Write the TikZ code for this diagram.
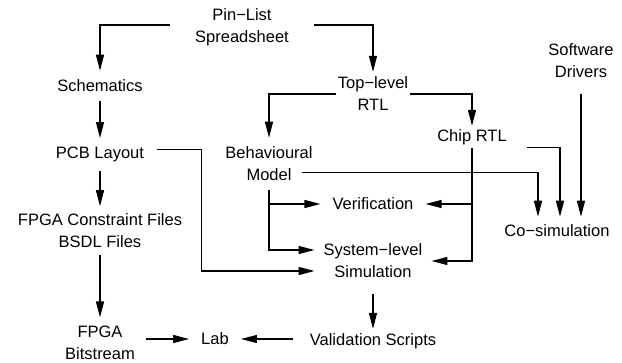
\documentclass[tikz,border=0pt]{standalone}
\usepackage{fontspec}
\setmainfont{Liberation Sans}
\usepackage{tikz}
\usetikzlibrary{arrows.meta}
\tikzstyle{every node}=[font=\fontsize{16.5}{22}\selectfont, align=center]

\begin{document}
\begin{tikzpicture}[line cap=butt,line join=miter,>={Triangle[length=16pt,width=8pt]},x=1pt,y=1pt,
    flow/.style={->,line width=1.2pt}]
    \useasboundingbox (0,0) rectangle (622,362);
    \node[inner xsep=25pt,inner ysep=4pt] (pin) at (242,334.5) {Pin−List\\Spreadsheet};
    \node[inner xsep=8pt,inner ysep=9pt] (sch) at (100,276) {Schematics};
    \node[inner xsep=13pt,inner ysep=9pt] (pcb) at (100,207.25) {PCB Layout};
    \node[inner xsep=8pt,inner ysep=7pt] (fcf) at (100,131.5) {FPGA Constraint Files\\BSDL Files};
    \node[inner xsep=11pt,inner ysep=8pt] (bit) at (100,19.5) {FPGA\\Bitstream};
    \node[inner xsep=12pt,inner ysep=4pt] (lab) at (215,23) {Lab};
    \node[inner xsep=17pt,inner ysep=4pt] (val) at (373,21.25) {Validation Scripts};
    \node[inner xsep=2pt,inner ysep=5pt] (top) at (373,268) {Top−level\\RTL};
    \node[inner xsep=8pt,inner ysep=9pt] (beh) at (269,198) {Behavioural\\Model};
    \node[inner xsep=20pt,inner ysep=3pt] (chip) at (472,225.25) {Chip RTL};
    \node[inner xsep=12pt,inner ysep=6pt] (ver) at (373,158) {Verification};
    \node[inner xsep=9pt,inner ysep=16pt] (sys) at (373,101) {System−level\\Simulation};
    \node[inner xsep=8pt,inner ysep=16pt] (sw) at (581,301.5) {Software\\Drivers};
    \node[inner xsep=8pt,inner ysep=8pt] (cos) at (557,131) {Co−simulation};

    \draw[flow] ([yshift=2.5pt]pin.west) -| (sch);
    \draw[flow] ([yshift=2.5pt]pin.east) -| (top);
    \draw[flow] (sch) -- (pcb);
    \draw[flow] (pcb) -- (fcf);
    \draw[flow] (fcf) -- (bit);
    \draw[flow] (bit.east |- lab) -- (lab);
    \draw[flow] (val.west |- lab) -- (lab);
    \draw[flow] (sys) -- (val);
    \draw[flow] (top) -| (beh);
    \draw[flow] (top) -| (chip);
    \draw[flow] (beh.south) |- (ver);
    \draw[flow] (beh.south) |- ([yshift=11pt]sys.west);
    \draw[flow] ([yshift=5pt]pcb.east) -- ++(44,0) |- ([yshift=-10pt]sys.west);
    \draw[flow] (chip.south) |- (ver);
    \draw[flow] (chip.south) |- (sys);
    \draw[flow] (chip.south east) -| ([xshift=3pt]cos.north);
    \draw[flow] ([xshift=33pt,yshift=18pt]beh.south) -| ([xshift=-19pt]cos.north);
    \draw[flow] (sw) -- (sw |- cos.north);
\end{tikzpicture}
\end{document}
